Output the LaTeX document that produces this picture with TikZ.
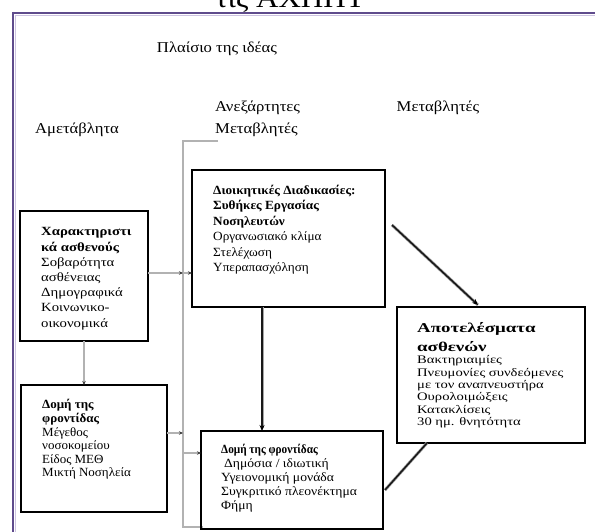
\documentclass[tikz,border=0pt]{standalone}
\usepackage{fontspec}
\setmainfont{Liberation Serif}
\newfontfamily\fHead[FakeStretch=1.11]{Liberation Serif}
\newfontfamily\fA[FakeStretch=1.18]{Liberation Serif}
\newfontfamily\fB[FakeStretch=1.04]{Liberation Serif}
\newfontfamily\fC[FakeStretch=1.06]{Liberation Serif}
\newfontfamily\fD[FakeStretch=1.09]{Liberation Serif}
\newfontfamily\fDb[FakeStretch=0.9]{Liberation Serif}
\newfontfamily\fE[FakeStretch=1.4]{Liberation Serif}
\newfontfamily\fF[FakeStretch=1.27]{Liberation Serif}
\usetikzlibrary{arrows.meta}
\definecolor{frameC}{RGB}{95,75,140}
\definecolor{frameL}{RGB}{205,195,225}
\begin{document}
\begin{tikzpicture}[x=1pt,y=-1pt,
  box/.style={draw=black, line width=1.6pt, anchor=north west, inner sep=0pt, outer sep=0pt},
  txt/.style={anchor=north west, inner sep=0pt, align=left},
  head/.style={inner sep=0pt, font=\fHead\fontsize{15}{22}\selectfont, align=left},
  glink/.style={draw=black!30, line width=1.3pt, -{Stealth[length=4pt,width=3.5pt,black!75]}},
  bhalo/.style={draw=black!35, line width=3pt},
  blink/.style={draw=black!90, line width=1.6pt},
  btip/.style={-{Stealth[length=6pt,width=5pt,black]}}
]
\useasboundingbox (0,0) rectangle (595,532);
\clip (0,0) rectangle (595,532);
% frame
\node[inner sep=0pt, anchor=base, font=\fHead\fontsize{28}{30}\selectfont] (title) at (290,7.5) {τις ΑΧΗΠΤ};
\draw[frameL, line width=1.2pt] (15,15.5) -- (595,15.5);
\draw[frameL, line width=1.2pt] (15.5,15.5) -- (15.5,532);
\draw[frameC, line width=2.4pt] (12,13) -- (595,13);
\draw[frameC, line width=2.4pt] (13,12) -- (13,532);

% headings
\node[head] (hIdea) at (217,49) {Πλαίσιο της ιδέας};
\node[head] (hAmet) at (77,130) {Αμετάβλητα};
\node[head, anchor=north west] (hAnex) at (215,101) {Ανεξάρτητες\\Μεταβλητές};
\node[head] (hMet) at (438,108) {Μεταβλητές};

% bracket
\coordinate (brT) at (218,141);
\coordinate (brTL) at (183,141);
\coordinate (brBL) at (183,527);
\coordinate (brB) at (203,527);
\draw[draw=black!30, line width=1.4pt] (brT) -- (brTL) -- (brBL) -- (brB);

% boxes
\node[box, minimum width=128pt, minimum height=130pt] (b1) at (20,211) {};
\node[box, minimum width=146pt, minimum height=127pt] (b2) at (21,385) {};
\node[box, minimum width=193pt, minimum height=137pt] (b3) at (192,170) {};
\node[box, minimum width=182pt, minimum height=98pt] (b4) at (201,431) {};
\node[box, minimum width=188pt, minimum height=136pt] (b5) at (397,307) {};

% texts
\node[txt, font=\fA\fontsize{12.5}{15.2}\selectfont] (t1) at (41,227.5)
  {\textbf{Χαρακτηριστι}\\\textbf{κά ασθενούς}\\Σοβαρότητα\\ασθένειας\\Δημογραφικά\\Κοινωνικο-\\οικονομικά};
\node[txt, font=\fB\fontsize{12.5}{13.6}\selectfont] (t2) at (42,399.5)
  {\textbf{Δομή της}\\\textbf{φροντίδας}\\Μέγεθος\\νοσοκομείου\\Είδος ΜΕΘ\\Μικτή Νοσηλεία};
\node[txt, font=\fC\fontsize{12.5}{15.5}\selectfont] (t3) at (213,185)
  {\textbf{Διοικητικές Διαδικασίες:}\\\textbf{Συθήκες Εργασίας}\\\textbf{Νοσηλευτών}\\Οργανωσιακό κλίμα\\Στελέχωση\\Υπεραπασχόληση};
\node[txt, font=\fD\fontsize{12.5}{14}\selectfont] (t4) at (221,444)
  {{\fDb\bfseries Δομή της φροντίδας}\\\hspace{3pt}Δημόσια / ιδιωτική\\Υγειονομική μονάδα\\Συγκριτικό πλεονέκτημα\\Φήμη};
\node[txt, font=\fE\fontsize{13.5}{19}\selectfont\bfseries] (t5a) at (417,322)
  {Αποτελέσματα\\ασθενών};
\node[txt, font=\fF\fontsize{11.5}{12.3}\selectfont] (t5b) at (417,355.5)
  {Βακτηριαιμίες\\Πνευμονίες συνδεόμενες\\με τον αναπνευστήρα\\Ουρολοιμώξεις\\Κατακλίσεις\\30 ημ. θνητότητα};

% grey connectors
\draw[glink] (b1.south) -- (b1.south |- b2.north);
\coordinate (g1) at (148,273);
\coordinate (g2) at (167,433);
\coordinate (g3) at (183,273);
\coordinate (g4) at (183,453);
\draw[glink] (g1) -- (g1 -| brTL);
\draw[glink] (g2) -- (g2 -| brTL);
\draw[glink] (g3) -- (g3 -| b3.west);
\draw[glink] (g4) -- (g4 -| b4.west);

% bold connectors
\coordinate (cv) at (262,0);
\coordinate (d1) at (392,225);
\coordinate (d2) at (478,305);
\coordinate (e1) at (385,490);
\coordinate (e2) at (427,443);
\draw[bhalo] (b3.south -| cv) -- ([yshift=3pt]b4.north -| cv);
\draw[blink, btip] (b3.south -| cv) -- (b4.north -| cv);
\draw[bhalo] (d1) -- (d2);
\draw[blink, btip] (d1) -- (d2);
\draw[bhalo] (e1) -- (e2);
\draw[blink] (e1) -- (e2);
\end{tikzpicture}
\end{document}
